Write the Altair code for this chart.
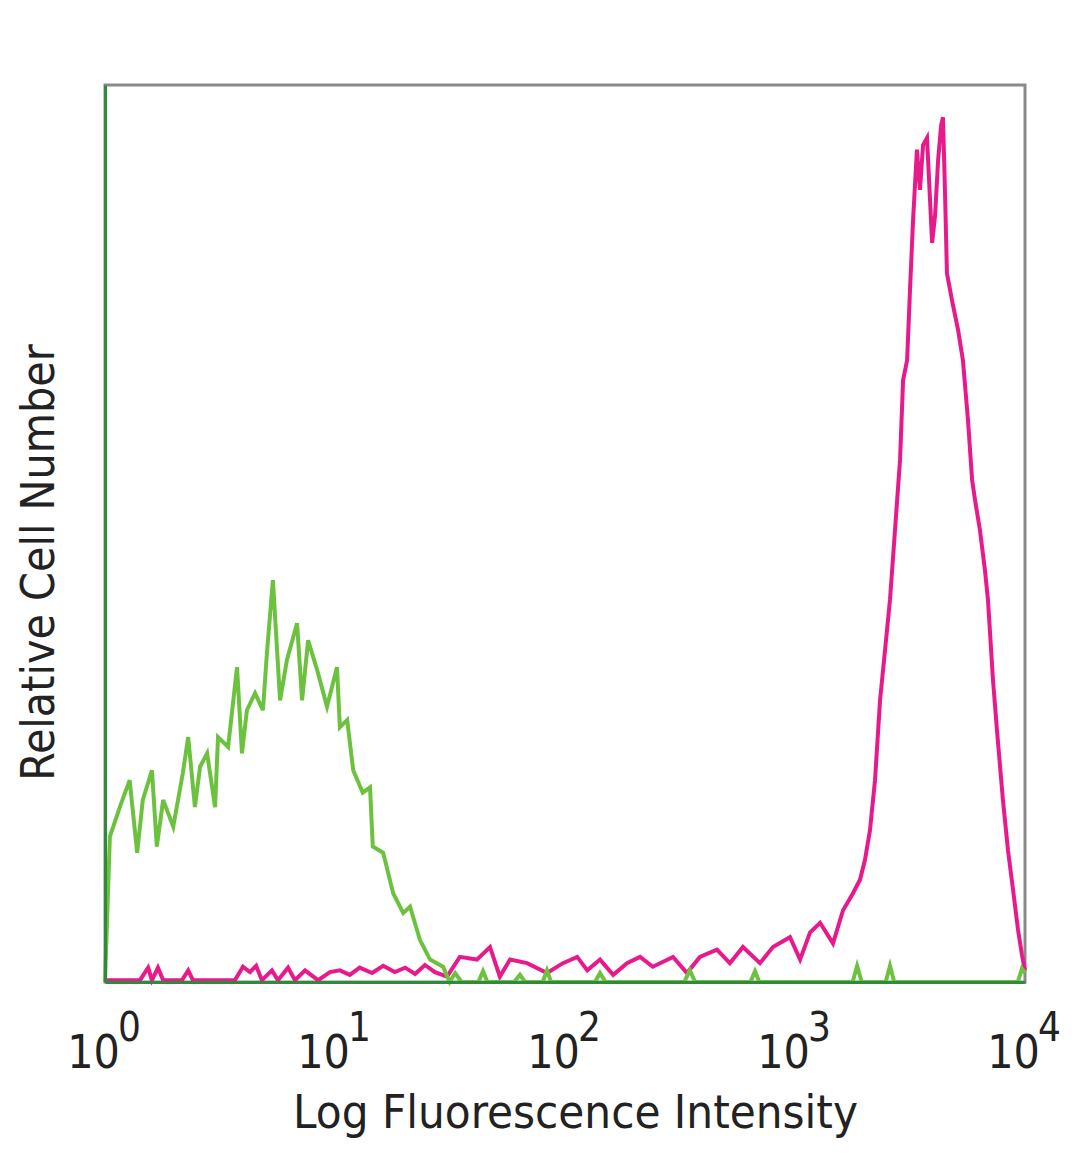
import altair as alt
import pandas as pd

# Green histogram (control)
green_x = [1.0, 1.05, 1.16, 1.28, 1.38, 1.46, 1.60, 1.68, 1.79, 1.98, 2.18, 2.30, 2.46, 2.59, 2.78, 3.01, 3.10,
           3.43, 3.75, 3.94, 4.14, 4.49, 4.86, 5.06, 5.37, 5.77, 6.18, 6.84, 7.19, 7.64, 8.36, 9.23,
           10.2, 10.5, 11.3, 12.0, 13.2, 14.2, 14.6, 16.2, 17.9, 19.8, 21.2, 23.4, 25.9, 29.5,
           31.5, 33.3, 35.5, 42.0, 44.0, 46.0, 60.0, 63.7, 67.0, 80.0, 83.5, 87.0,
           135, 142, 150, 330, 349, 368, 640, 670, 700, 1780, 1862, 1950, 2480, 2588, 2700,
           9300, 9700, 10000]
green_y = [0.0, 16.2, 19.5, 22.5, 14.4, 20.3, 23.6, 15.1, 20.3, 17.3, 23.3, 27.3, 19.5, 24.0, 25.5, 19.5, 27.3,
           26.2, 35.1, 25.5, 30.3, 32.2, 30.3, 36.7, 44.8, 31.4, 35.9, 40.0, 31.4, 38.1, 34.8, 30.7,
           35.1, 28.4, 29.2, 23.6, 21.1, 21.7, 15.1, 14.4, 9.9, 7.7, 8.4, 4.7, 2.5, 1.7,
           0.0, 1.0, 0.0, 0.0, 1.2, 0.0, 0.0, 0.8, 0.0, 0.0, 1.3, 0.0,
           0.0, 1.0, 0.0, 0.0, 1.3, 0.0, 0.0, 1.2, 0.0, 0.0, 1.8, 0.0, 0.0, 1.8, 0.0,
           0.0, 1.5, 1.0]

# Magenta histogram (stained)
mag_x = [1.0, 1.42, 1.54, 1.60, 1.70, 1.79, 2.16, 2.30, 2.41, 3.67, 3.98, 4.27, 4.54, 4.81, 5.32, 5.65,
         6.25, 6.70, 7.41, 8.44, 9.51, 10.5, 11.6, 12.8, 14.5, 16.2, 18.2, 20.2, 22.3, 24.6, 27.2,
         30.7, 34.9, 41.4, 47.2, 52.1, 57.7, 68.4, 83.5, 98.0, 113, 125, 142, 162, 186, 212, 241,
         295, 339, 386, 458, 521, 594, 704, 802, 951, 1052, 1162, 1285, 1463, 1618, 1787, 1917,
         2014, 2118, 2228, 2343, 2463, 2588, 2722, 2862, 2951, 3072, 3162, 3260, 3390, 3494,
         3604, 3750, 3864, 3946, 4066, 4190, 4318, 4399, 4487, 4578, 4816, 5117, 5373, 5649,
         5888, 6067, 6368, 6698, 6902, 7257, 7551, 8017, 8433, 8869, 9328, 9704, 10000]
mag_y = [0.2, 0.2, 1.6, 0.2, 1.6, 0.2, 0.2, 1.3, 0.2, 0.2, 1.7, 1.1, 1.8, 0.2, 1.3, 0.2,
         1.6, 0.2, 1.3, 0.2, 1.1, 1.3, 0.8, 1.6, 1.0, 1.8, 1.1, 1.6, 0.9, 1.9, 1.1,
         0.6, 2.8, 2.5, 3.9, 0.6, 2.5, 2.1, 1.0, 2.1, 2.8, 1.3, 2.5, 0.8, 2.1, 2.8, 1.7,
         2.8, 1.0, 2.8, 3.6, 2.1, 3.9, 2.1, 3.9, 5.0, 2.5, 5.5, 6.6, 4.3, 8.0, 9.9, 11.4,
         13.6, 16.9, 22.5, 31.4, 37.0, 42.6, 50.4, 58.2, 67.1, 69.3, 77.1, 84.9, 92.8, 88.3,
         93.3, 94.1, 87.2, 82.4, 85.5, 91.6, 95.5, 96.4, 88.3, 79.0, 76.0, 72.7, 69.3, 62.7,
         56.0, 53.7, 50.4, 45.9, 42.6, 33.7, 28.1, 20.3, 14.7, 10.3, 5.8, 3.0, 1.3]

tick_values = [1, 10, 100, 1000, 10000]
tick_base = "10"
tick_exponents = ["0", "1", "2", "3", "4"]

green_df = pd.DataFrame({"x": green_x, "y": green_y, "i": range(len(green_x))})
mag_df = pd.DataFrame({"x": mag_x, "y": mag_y, "i": range(len(mag_x))})
exp_df = pd.DataFrame({"x": tick_values, "e": tick_exponents})

FONT = "DejaVu Sans Condensed, DejaVu Sans"
TXT = "#222222"
W, H = 920, 897

x_scale = alt.Scale(type="log", domain=[1, 10000], nice=False)
y_scale = alt.Scale(domain=[0, 100], nice=False)

x_enc = alt.X("x:Q", scale=x_scale,
              axis=alt.Axis(values=tick_values, labelExpr=f"'{tick_base}'", grid=False, ticks=False,
                            tickSize=0, labelPadding=85, labelBaseline="alphabetic", labelOffset=-12,
                            labelFontSize=46, labelFont=FONT, labelColor=TXT,
                            labelFlush=False, labelOverlap=False,
                            domainColor="#2f8a3c", domainWidth=3, zindex=1,
                            title="Log Fluorescence Intensity", titleFontSize=47,
                            titleFont=FONT, titleFontWeight="normal", titleColor=TXT,
                            titleX=470, titleY=145, titleBaseline="alphabetic"))
y_enc = alt.Y("y:Q", scale=y_scale,
              axis=alt.Axis(labels=False, ticks=False, grid=False,
                            domainColor="#2f8a3c", domainWidth=3, zindex=1,
                            title="Relative Cell Number", titleFontSize=46,
                            titleFont=FONT, titleFontWeight="normal", titleColor=TXT,
                            titleX=-66, titleY=477, titleBaseline="middle", titleAngle=-90))

magenta = alt.Chart(mag_df).mark_line(color="#e8198b", strokeWidth=4).encode(
    x=x_enc, y=y_enc, order="i:Q")
green = alt.Chart(green_df).mark_line(color="#6cc23f", strokeWidth=4).encode(
    x=x_enc, y=y_enc, order="i:Q")
exponents = alt.Chart(exp_df).mark_text(
    align="left", baseline="alphabetic", dx=13, fontSize=40, font=FONT, color=TXT, clip=False
).encode(x=alt.X("x:Q", scale=x_scale), y=alt.value(H + 59), text="e:N")

chart = alt.layer(magenta, green, exponents).properties(
    width=W, height=H,
    autosize=alt.AutoSizeParams(type="none"),
    padding={"left": 97, "top": 77, "right": 47, "bottom": 180},
).configure(background="white").configure_view(stroke="#8a8a8a", strokeWidth=3)

chart.save("out.html", embed_options={"renderer": "svg", "actions": False})
